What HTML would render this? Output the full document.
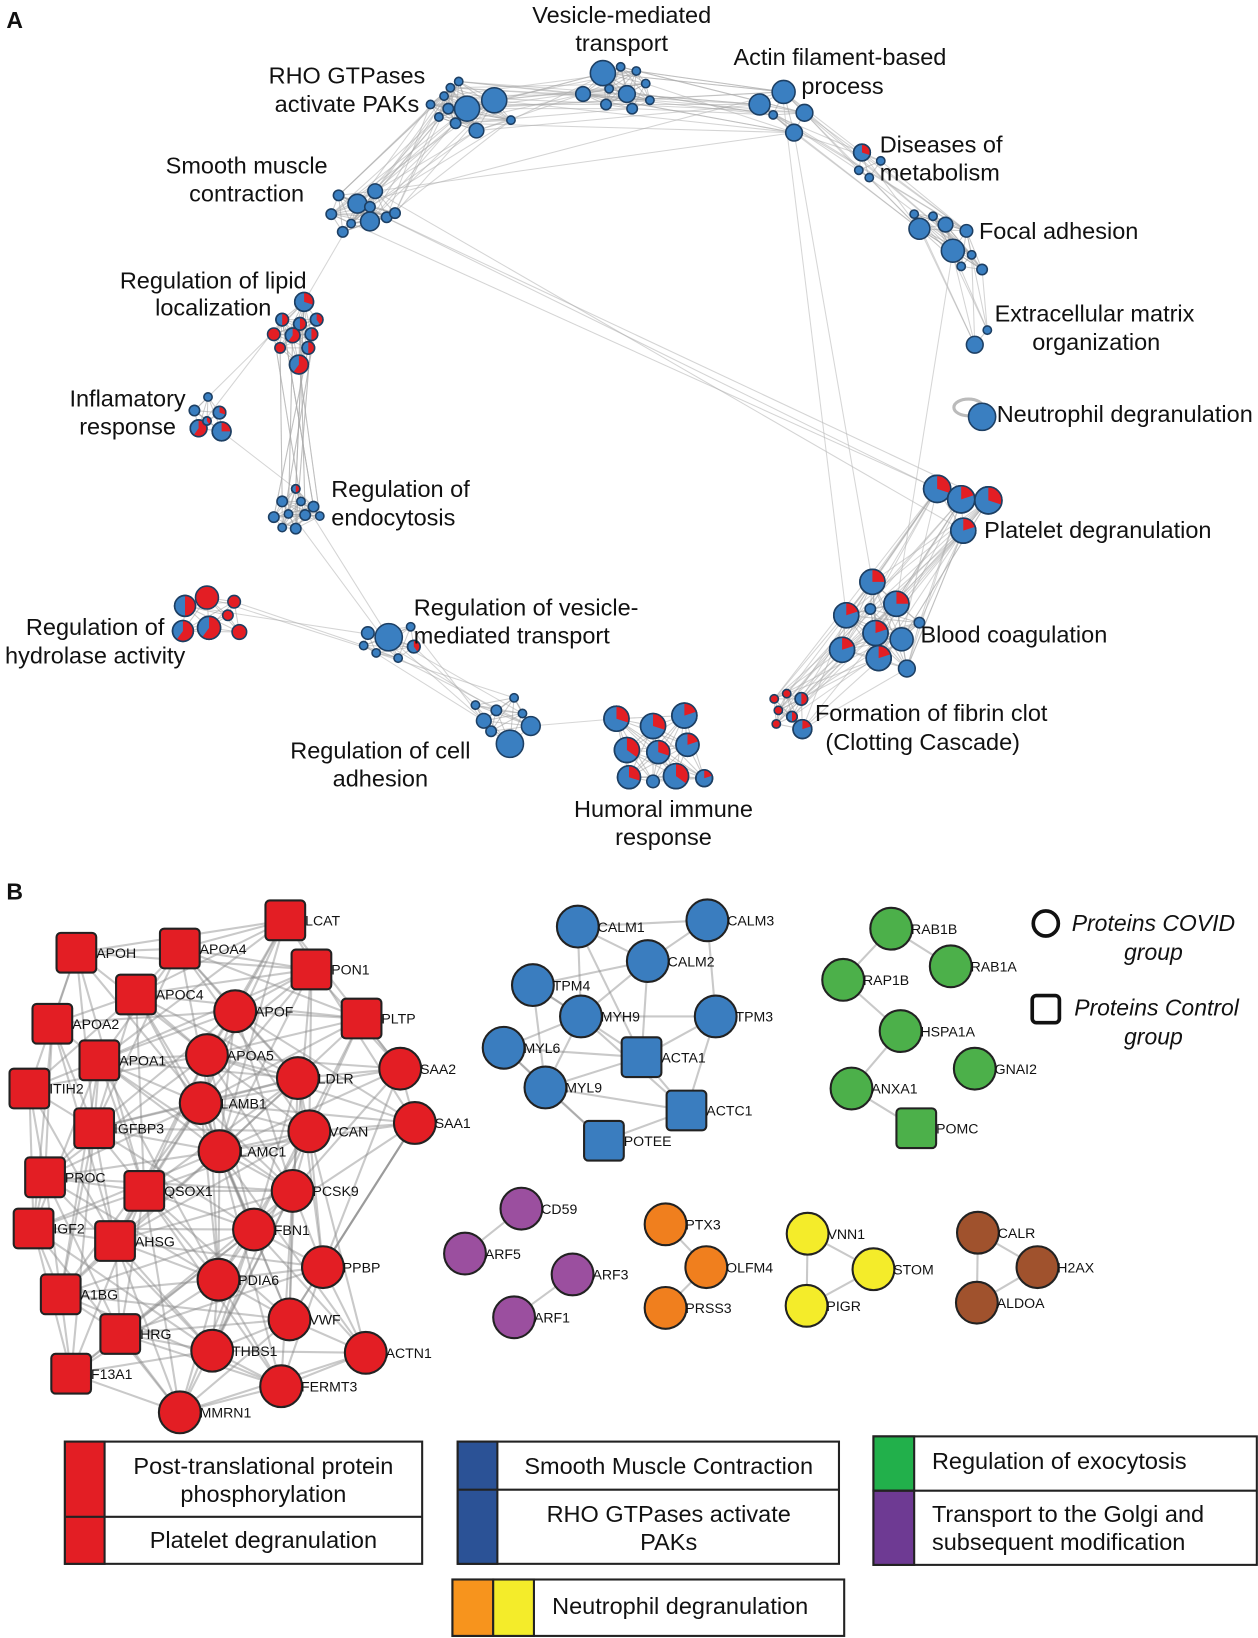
<!DOCTYPE html>
<html><head><meta charset="utf-8"><style>
html,body{margin:0;padding:0;background:#fff}
svg{display:block}
text{font-family:"Liberation Sans",Arial,sans-serif;fill:#111}
.a{font-size:22.5px}
.b{font-size:13.5px}
.l{font-size:22.5px}
</style></head><body>
<svg id="s" width="1258" height="1638" viewBox="0 0 1204 1568" xmlns="http://www.w3.org/2000/svg">
<g id="edges"></g>
<g id="nodes"></g>
<g id="labels">
<text x="6" y="27" style="font-size:22px;font-weight:bold">A</text>
<text x="6" y="861" style="font-size:22px;font-weight:bold">B</text>
<g class="a" text-anchor="middle">
<text x="595" y="22">Vesicle-mediated</text><text x="595" y="49">transport</text>
<text x="332" y="80">RHO GTPases</text><text x="332" y="107">activate PAKs</text>
<text x="236" y="166">Smooth muscle</text><text x="236" y="193">contraction</text>
<text x="204" y="276">Regulation of lipid</text><text x="204" y="302">localization</text>
<text x="122" y="389">Inflamatory</text><text x="122" y="416">response</text>
<text x="364" y="726">Regulation of cell</text><text x="364" y="753">adhesion</text>
<text x="635" y="782">Humoral immune</text><text x="635" y="809">response</text>
<text x="91" y="608">Regulation of</text><text x="91" y="635">hydrolase activity</text>
</g>
<g class="a">
<text x="702" y="62">Actin filament-based</text><text x="767" y="90">process</text>
<text x="842" y="146">Diseases of</text><text x="842" y="173">metabolism</text>
<text x="937" y="229">Focal adhesion</text>
<text x="952" y="308">Extracellular matrix</text><text x="988" y="335">organization</text>
<text x="954" y="404">Neutrophil degranulation</text>
<text x="317" y="476">Regulation of</text><text x="317" y="503">endocytosis</text>
<text x="942" y="515">Platelet degranulation</text>
<text x="396" y="589">Regulation of vesicle-</text><text x="396" y="616">mediated transport</text>
<text x="881" y="615">Blood coagulation</text>
<text x="780" y="690">Formation of fibrin clot</text><text x="790" y="718">(Clotting Cascade)</text>
</g>
<g class="b" id="bl"></g>
<g style="font-size:22px;font-style:italic" text-anchor="middle">
<text x="1104" y="891">Proteins COVID</text><text x="1104" y="919">group</text>
<text x="1107" y="972">Proteins Control</text><text x="1104" y="1000">group</text>
</g>
</g>
<g id="legend">
<circle cx="1001" cy="884" r="12" fill="#fff" stroke="#111" stroke-width="3.5"/>
<rect x="988" y="953" width="26" height="26" rx="4" fill="#fff" stroke="#111" stroke-width="3.5"/>
<g stroke="#222" stroke-width="2">
<rect x="62" y="1380" width="342" height="117" fill="#fff"/>
<rect x="62" y="1380" width="38" height="117" fill="#e31e24"/>
<line x1="62" y1="1452" x2="404" y2="1452"/>
<rect x="438" y="1380" width="365" height="117" fill="#fff"/>
<rect x="438" y="1380" width="38" height="117" fill="#2b5296"/>
<line x1="438" y1="1426" x2="803" y2="1426"/>
<rect x="836" y="1375" width="367" height="123" fill="#fff"/>
<rect x="836" y="1375" width="39" height="52" fill="#22b04b"/>
<rect x="836" y="1427" width="39" height="71" fill="#6e3a93"/>
<line x1="836" y1="1427" x2="1203" y2="1427"/>
<rect x="433" y="1512" width="375" height="54" fill="#fff"/>
<rect x="433" y="1512" width="39" height="54" fill="#f7941d"/>
<rect x="472" y="1512" width="39" height="54" fill="#f4ec2a"/>
</g>
<g class="l" text-anchor="middle">
<text x="252" y="1411">Post-translational protein</text><text x="252" y="1438">phosphorylation</text>
<text x="252" y="1482">Platelet degranulation</text>
<text x="640" y="1411">Smooth Muscle Contraction</text>
<text x="640" y="1457">RHO GTPases activate</text><text x="640" y="1484">PAKs</text>
<text x="651" y="1545">Neutrophil degranulation</text>
</g>
<g class="l">
<text x="892" y="1406">Regulation of exocytosis</text>
<text x="892" y="1457">Transport to the Golgi and</text><text x="892" y="1484">subsequent modification</text>
</g>
</g>
</svg>
<script>
var NS="http://www.w3.org/2000/svg",E=document.getElementById('edges'),N=document.getElementById('nodes'),BL=document.getElementById('bl');
function el(p,t,a){var e=document.createElementNS(NS,t);for(var k in a)e.setAttribute(k,a[k]);p.appendChild(e);return e}
function line(a,b,c,w,o){el(E,'line',{x1:a[0],y1:a[1],x2:b[0],y2:b[1],stroke:c||'#bbb','stroke-width':w||1,'stroke-opacity':o||0.5})}
var BLUE='#3a7fc1',RED='#e31e24';
function pie(x,y,r,f){el(N,'circle',{cx:x,cy:y,r:r,fill:f>=1?RED:BLUE,stroke:'#1d3f63','stroke-width':1.5});
 if(f>0&&f<1){var a=2*Math.PI*f,ex=x+r*Math.sin(a),ey=y-r*Math.cos(a);
 el(N,'path',{d:'M'+x+','+y+' L'+x+','+(y-r)+' A'+r+','+r+' 0 '+(f>0.5?1:0)+' 1 '+ex+','+ey+' Z',fill:RED});
 el(N,'circle',{cx:x,cy:y,r:r,fill:'none',stroke:'#1d3f63','stroke-width':1.5});}}
var C={
rho:[[447,104,12,0],[473,96,12,0],[431,84,4,0],[439,78,4,0],[425,92,4,0],[429,104,5,0],[436,118,5,0],[456,125,7,0],[489,115,4,0],[412,100,4,0],[420,112,4,0]],
ves:[[577,70,12,0],[558,90,7,0],[600,90,8,0],[583,85,4,0],[594,64,4,0],[609,68,4,0],[618,80,4,0],[580,100,5,0],[605,104,5,0],[622,96,4,0]],
act:[[750,88,11,0],[727,100,10,0],[770,108,8,0],[760,127,8,0],[740,110,4,0]],
dis:[[825,146,8,0.3],[843,154,4,0],[822,163,4,0],[832,170,4,0]],
foc:[[880,219,10,0],[912,240,11,0],[905,215,7,0],[925,221,6,0],[875,205,4,0],[893,207,4,0],[930,244,4,0],[940,258,5,0],[920,255,4,0]],
ecm:[[933,330,8,0],[945,316,4,0]],
neu:[[940,399,13,0]],
pla:[[897,468,13,0.3],[920,478,13,0.2],[946,479,13,0.3],[922,508,12,0.2]],
coa:[[835,557,12,0.25],[858,578,12,0.25],[810,589,12,0.2],[838,606,12,0.2],[806,622,12,0.2],[841,630,12,0.2],[863,612,11,0],[880,596,5,0],[833,583,5,0],[868,640,8,0]],
fib:[[741,669,4,1],[753,664,4,1],[767,669,6,0.5],[745,680,4,1],[758,686,5,0.5],[743,693,4,1],[768,698,9,0.2]],
hum:[[590,688,12,0.3],[625,695,12,0.3],[655,685,12,0.2],[600,718,12,0.35],[630,720,11,0.3],[658,713,11,0.2],[602,744,11,0.3],[625,748,6,0],[647,743,12,0.35],[674,745,8,0.2]],
cad:[[488,712,13,0],[508,695,9,0],[463,690,7,0],[475,680,5,0],[492,668,4,0],[500,683,4,0],[455,675,4,0],[470,700,5,0]],
rvm:[[372,610,13,0],[352,606,6,0],[396,619,6,0.4],[381,630,4,0],[360,625,4,0],[393,600,4,0],[348,618,4,0]],
hyd:[[177,580,10,0.5],[198,572,11,1],[224,576,6,1],[175,604,10,0.6],[200,601,11,0.6],[229,605,7,1],[218,589,5,1]],
endo:[[283,468,4,0.5],[270,480,5,0],[288,480,4,0],[300,485,5,0],[262,495,5,0],[276,492,4,0],[292,493,5,0],[306,494,4,0],[283,506,5,0],[270,505,4,0]],
inf:[[186,393,5,0],[199,380,4,0],[210,395,6,0.3],[190,410,8,0.6],[212,413,9,0.25],[198,403,4,0.4]],
lip:[[291,289,9,0.3],[270,306,6,0.5],[287,310,6,0.5],[303,306,6,0.4],[262,320,6,1],[280,321,7,0.6],[298,320,6,0.5],[268,333,5,1],[295,333,6,0.5],[286,349,9,0.6]],
smo:[[342,195,9,0],[359,183,7,0],[324,187,5,0],[317,205,5,0],[354,198,5,0],[336,214,4,0],[354,212,9,0],[370,208,5,0],[328,222,5,0],[378,204,5,0]]
};
function internal(c){for(var i=0;i<c.length;i++)for(var j=i+1;j<c.length;j++)line(c[i],c[j],'#999',1,0.5)}
function between(a,b,k){for(var i=0;i<k;i++){line(a[i%a.length],b[(i*3)%b.length],'#aaa',1,0.5)}}
for(var k in C)internal(C[k]);
between(C.rho,C.ves,18);between(C.ves,C.act,16);between(C.rho,C.act,8);between(C.rho,C.smo,26);
between(C.act,C.dis,5);between(C.dis,C.foc,5);between(C.act,C.foc,8);between(C.foc,C.ecm,8);
between(C.smo,C.pla,4);between(C.smo,C.act,2);line([330,222],[291,289],'#bbb',1,0.6);
between(C.lip,C.endo,22);between(C.lip,C.inf,2);between(C.inf,C.endo,1);between(C.endo,C.rvm,2);
between(C.hyd,C.rvm,3);between(C.rvm,C.cad,8);line([508,695],[590,688],'#bbb',1,0.6);
line([760,127],[835,557],'#bbb',1,0.6);line([750,100],[810,589],'#bbb',1,0.6);line([912,240],[858,578],'#bbb',1,0.6);
between(C.pla,C.coa,24);between(C.coa,C.fib,18);between(C.pla,C.fib,8);
el(E,'ellipse',{cx:927,cy:390,rx:14,ry:8,fill:'none',stroke:'#bbb','stroke-width':3});
for(var k in C)C[k].forEach(function(n){pie(n[0],n[1],n[2],n[3])});
var B=[
['LCAT',273,881,'s','r'],['APOH',73,912,'s','r'],['APOA4',172,908,'s','r'],['PON1',298,928,'s','r'],['APOC4',130,952,'s','r'],['APOA2',50,980,'s','r'],['PLTP',346,975,'s','r'],['APOA1',95,1015,'s','r'],['ITIH2',28,1042,'s','r'],['IGFBP3',90,1080,'s','r'],['PROC',43,1127,'s','r'],['QSOX1',138,1140,'s','r'],['IGF2',32,1176,'s','r'],['AHSG',110,1188,'s','r'],['A1BG',58,1239,'s','r'],['HRG',115,1277,'s','r'],['F13A1',68,1315,'s','r'],
['APOF',225,968,'c','r'],['APOA5',198,1010,'c','r'],['LDLR',285,1032,'c','r'],['SAA2',383,1023,'c','r'],['LAMB1',192,1056,'c','r'],['SAA1',397,1075,'c','r'],['VCAN',296,1083,'c','r'],['LAMC1',210,1102,'c','r'],['PCSK9',280,1140,'c','r'],['FBN1',243,1177,'c','r'],['PPBP',309,1213,'c','r'],['PDIA6',209,1225,'c','r'],['VWF',277,1263,'c','r'],['THBS1',203,1293,'c','r'],['ACTN1',350,1295,'c','r'],['FERMT3',269,1327,'c','r'],['MMRN1',172,1352,'c','r'],
['CALM1',553,887,'c','b'],['CALM3',677,881,'c','b'],['CALM2',620,920,'c','b'],['TPM4',510,943,'c','b'],['MYH9',556,973,'c','b'],['TPM3',685,973,'c','b'],['MYL6',482,1003,'c','b'],['ACTA1',614,1012,'s','b'],['MYL9',522,1041,'c','b'],['ACTC1',657,1063,'s','b'],['POTEE',578,1092,'s','b'],
['RAB1B',853,889,'c','g'],['RAP1B',807,938,'c','g'],['RAB1A',910,925,'c','g'],['HSPA1A',862,987,'c','g'],['GNAI2',933,1023,'c','g'],['ANXA1',815,1042,'c','g'],['POMC',877,1080,'s','g'],
['CD59',499,1157,'c','p'],['ARF5',445,1200,'c','p'],['ARF3',548,1220,'c','p'],['ARF1',492,1261,'c','p'],
['PTX3',637,1172,'c','o'],['OLFM4',676,1213,'c','o'],['PRSS3',637,1252,'c','o'],
['VNN1',773,1181,'c','y'],['STOM',836,1215,'c','y'],['PIGR',772,1250,'c','y'],
['CALR',936,1180,'c','n'],['H2AX',993,1213,'c','n'],['ALDOA',935,1247,'c','n']];
var COL={r:'#e31e24',b:'#3a7dbf',g:'#4cb04a',p:'#9b4f9f',o:'#f07f1e',y:'#f4ec2a',n:'#a0522d'};
var groups={};B.forEach(function(n){(groups[n[4]]=groups[n[4]]||[]).push(n)});
for(var g in groups){var a=groups[g];for(var i=0;i<a.length;i++)for(var j=i+1;j<a.length;j++){
 var dx=a[i][1]-a[j][1],dy=a[i][2]-a[j][2],d=Math.sqrt(dx*dx+dy*dy);
 var lim=g=='r'?240:(g=='b'?140:75);
 if(d<lim && ((i*7+j*13)%10<(g=='r'?7:8)))line([a[i][1],a[i][2]],[a[j][1],a[j][2]],'#888',2,0.45);}}
line([397,1075],[309,1213],'#888',2,0.45);
B.forEach(function(n){var x=n[1],y=n[2],c=COL[n[4]];
 if(n[3]=='s')el(N,'rect',{x:x-19,y:y-19,width:38,height:38,rx:4,fill:c,stroke:'#222','stroke-width':2});
 else el(N,'circle',{cx:x,cy:y,r:20,fill:c,stroke:'#222','stroke-width':2});
 var t=el(BL,'text',{x:x+19,y:y+5});t.textContent=n[0];});
</script>
</body></html>
